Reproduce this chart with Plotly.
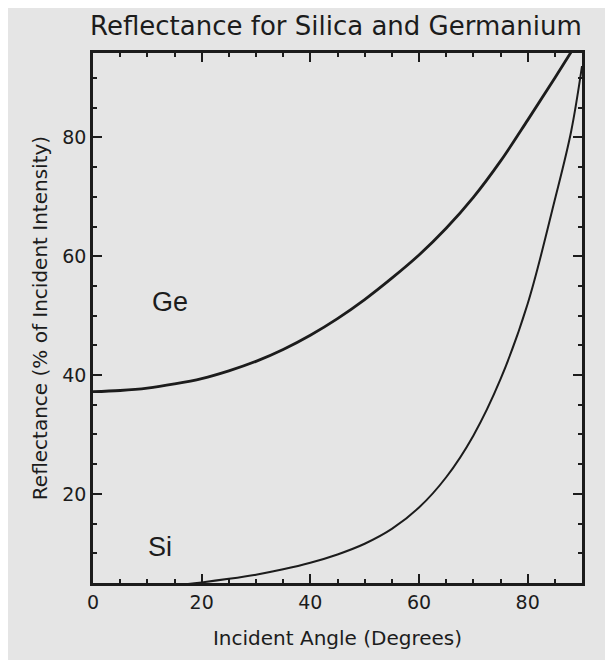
import plotly.graph_objects as go

# Data
ge_angle = [0, 5, 10, 15, 20, 25, 30, 35, 40, 45, 50, 55, 60, 65, 70, 75, 80, 85, 90]
ge_refl = [37.2, 37.4, 37.8, 38.5, 39.4, 40.7, 42.3, 44.3, 46.7, 49.5, 52.7, 56.3, 60.2,
           64.7, 69.9, 76.0, 82.9, 90.0, 97.3]

si_angle = [0, 10, 15, 20, 25, 30, 35, 40, 45, 50, 55, 60, 65, 70, 75, 80, 85, 88, 90]
si_refl = [3.9, 4.3, 4.6, 5.1, 5.7, 6.4, 7.3, 8.4, 9.8, 11.6, 14.1, 17.7, 22.8, 29.8,
           39.3, 52.0, 69.5, 81.0, 92.0]

x_ticks = [0, 20, 40, 60, 80]
y_ticks = [20, 40, 60, 80]

title_text = "Reflectance for Silica and Germanium"
x_title = "Incident Angle (Degrees)"
y_title = "Reflectance (% of Incident Intensity)"

BG = "#e5e5e5"
INK = "#1c1c1c"
FONT = "DejaVu Sans"

fig = go.Figure()
fig.add_trace(go.Scatter(x=ge_angle, y=ge_refl, mode="lines",
                         line=dict(color=INK, width=2.8, shape="spline", smoothing=1.0), showlegend=False))
fig.add_trace(go.Scatter(x=si_angle, y=si_refl, mode="lines",
                         line=dict(color=INK, width=2.0, shape="spline", smoothing=1.0), showlegend=False))

fig.add_annotation(x=14.2, y=52.3, text="Ge", showarrow=False, font=dict(family="Liberation Sans", size=27, color=INK))
fig.add_annotation(x=12.4, y=11.1, text="Si", showarrow=False, font=dict(family="Liberation Sans", size=27, color=INK))

axis_common = dict(
    showline=True, linewidth=2.5, linecolor=INK, mirror="ticks",
    ticks="inside", ticklen=9, tickwidth=2, tickcolor=INK,
    showgrid=False, zeroline=False,
    minor=dict(dtick=5, ticks="inside", ticklen=4, tickwidth=2, tickcolor=INK),
    tickfont=dict(family=FONT, size=19, color=INK),
)

fig.update_xaxes(range=[0, 90], tickvals=x_ticks,
                 title=dict(text=x_title, font=dict(family=FONT, size=20, color=INK), standoff=20), **axis_common)
fig.update_yaxes(range=[5, 94.2], tickvals=y_ticks,
                 title=dict(text=y_title, font=dict(family=FONT, size=20, color=INK), standoff=10), **axis_common)

fig.update_layout(
    width=605, height=652,
    margin=dict(l=84.5, r=30.5, t=45, b=77),
    paper_bgcolor=BG, plot_bgcolor=BG,
    title=dict(text=title_text, x=0.542, xanchor="center", y=0.972, yanchor="middle",
               font=dict(family=FONT, size=26, color=INK)),
)

fig.write_html("out.html")
